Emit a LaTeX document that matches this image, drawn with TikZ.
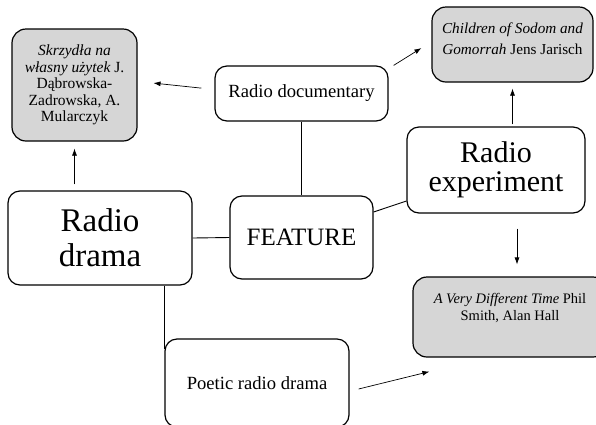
\documentclass[tikz,border=0pt]{standalone}
\usepackage{fontspec}
\setmainfont{Liberation Serif}
\usetikzlibrary{arrows.meta,positioning}
\definecolor{WorkGray}{HTML}{D6D6D6}

\begin{document}
\begin{tikzpicture}[x=1pt,y=-1pt,
          >={Latex[length=7pt,width=5pt]},
          genre/.style={draw,line width=1.2pt,rounded corners=12pt,align=center,inner sep=0pt},
          work/.style={genre,fill=WorkGray,rounded corners=14pt},
          link/.style={line width=0.9pt},
          arr/.style={->,line width=0.7pt}
        ]
        \path[use as bounding box] (0,0) rectangle (596,424);
        \clip (0,0) rectangle (596,424);

        % genres
        \node[genre,minimum width=184pt,minimum height=94pt,font=\fontsize{33}{35}\selectfont] (drama) at (100,238) {Radio\\drama};
        \node[genre,minimum width=143pt,minimum height=83pt,font=\fontsize{25}{28}\selectfont] (feature) at (301.5,237.5) {FEATURE};
        \node[genre,minimum width=173pt,minimum height=55pt,font=\fontsize{18.6}{21}\selectfont] (doc) at (301.5,93.5) {Radio documentary};
        \node[genre,minimum width=178pt,minimum height=86pt,font=\fontsize{30}{29}\selectfont] (exper) at (496,170) {Radio\\experiment};
        \node[genre,minimum width=184pt,minimum height=88pt,font=\fontsize{18.6}{21}\selectfont] (poetic) at (257,383) {Poetic radio drama};

        % works
        \node[work,minimum width=125pt,minimum height=112pt,font=\fontsize{15.5}{16.5}\selectfont] (skr) at (74.5,85)
          {{\itshape Skrzydła na}\\{\itshape własny użytek} J.\\Dąbrowska-\\Zadrowska, A.\\Mularczyk};
        \node[work,minimum width=161pt,minimum height=75pt,font=\fontsize{15.2}{21}\selectfont] (children) at (512.5,44.5)
          {{\itshape Children of Sodom and}\\{\itshape Gomorrah} Jens Jarisch\\[-9pt]\mbox{}};
        \node[work,minimum width=194pt,minimum height=80pt,font=\fontsize{14.5}{17}\selectfont] (avdt) at (510,317)
          {{\itshape A Very Different Time} Phil\\Smith, Alan Hall\\[4pt]\mbox{}};

        % connectors
        \draw[link] (drama.east) -- (feature.west);
        \draw[link] (doc.south) -- (feature.north);
        \draw[link] ([yshift=25.5pt]feature.east) -- ([yshift=-31pt]exper.west);
        \draw[link] (drama.south -| poetic.west) -- ([yshift=-11pt]poetic.north west);

        \draw[arr,shorten <=6pt,shorten >=7pt] (drama.north -| skr.south) -- (skr.south);
        \draw[arr,shorten <=13pt,shorten >=16pt] ([yshift=4pt]doc.west) -- ([yshift=3.6pt]skr.east);
        \draw[arr,shorten >=11.8pt] ([xshift=5pt]doc.north east) -- ([yshift=2.7pt]children.west);
        \draw[arr,shorten <=2pt,shorten >=6pt] (exper.north -| children.south) -- (children.south);
        \draw[arr,shorten <=15pt,shorten >=12pt] ([xshift=21pt]exper.south) -- ([xshift=21pt]exper.south |- avdt.north);
        \draw[arr] ([xshift=9pt,yshift=-6pt]poetic.east) -- ([xshift=17pt,yshift=-14pt]avdt.south west);

      \end{tikzpicture}
\end{document}
